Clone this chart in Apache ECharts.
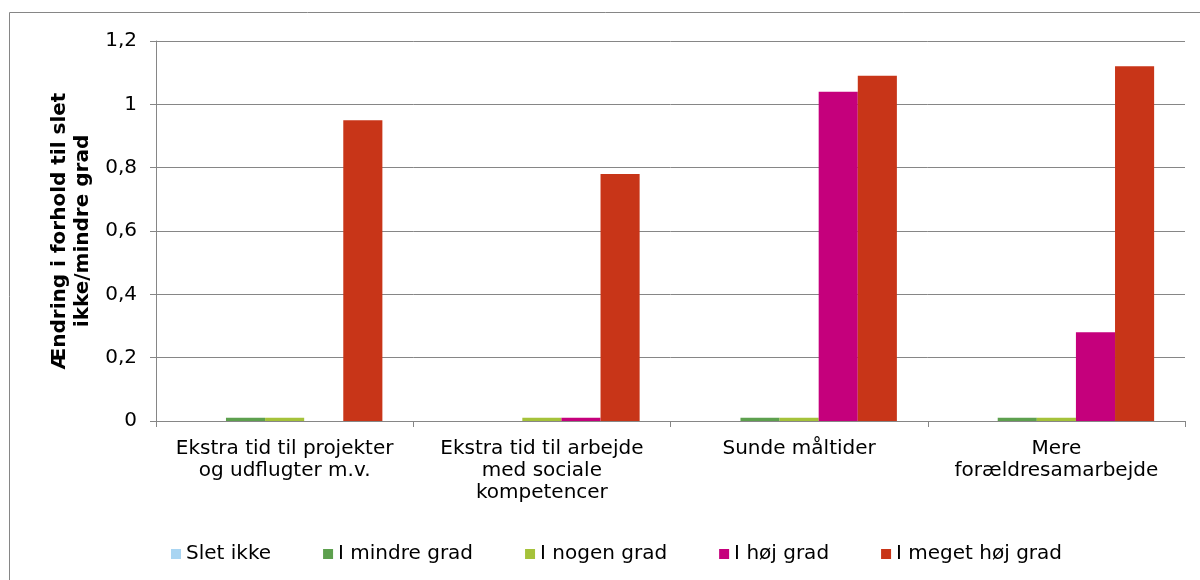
<!DOCTYPE html>
<html>
<head>
<meta charset="utf-8">
<script src="https://cdn.jsdelivr.net/npm/echarts@6/dist/echarts.min.js"></script>
<style>
  html, body { margin: 0; padding: 0; background: #fff; }
  #chart { width: 1200px; height: 580px; }
</style>
</head>
<body>
<div id="chart"></div>
<script>
// kategorier
var categories = [
  'Ekstra tid til projekter\nog udflugter m.v.',
  'Ekstra tid til arbejde\nmed sociale\nkompetencer',
  'Sunde måltider',
  'Mere\nforældresamarbejde'
]
var seriesNames = ['Slet ikke', 'I mindre grad', 'I nogen grad', 'I høj grad', 'I meget høj grad']
var sletIkke = [0, 0, 0, 0]
var iMindreGrad = [0.01, 0, 0.01, 0.01]
var iNogenGrad = [0.01, 0.01, 0.01, 0.01]
var iHoejGrad = [0, 0.01, 1.04, 0.28]
var iMegetHoejGrad = [0.95, 0.78, 1.09, 1.12]
var yTicks = [0, 0.2, 0.4, 0.6, 0.8, 1, 1.2]

var colors = ['#A9D5F2', '#5DA04E', '#A5C23A', '#C5007C', '#C83518']
var font = 'DejaVu Sans'
var gray = '#868686'

var chart = echarts.init(document.getElementById('chart'))
var values = [sletIkke, iMindreGrad, iNogenGrad, iHoejGrad, iMegetHoejGrad]

var option = {
  backgroundColor: '#fff',
  color: colors,
  animation: false,
  graphic: [
    {
      type: 'rect',
      shape: { x: 9.5, y: 12.5, width: 1300, height: 700 },
      style: { fill: 'none', stroke: gray, lineWidth: 1 },
      silent: true
    }
  ],
  legend: {
    data: seriesNames,
    left: 166,
    top: 539,
    itemWidth: 10,
    itemHeight: 10,
    itemGap: 52,
    icon: 'rect',
    textStyle: { fontFamily: font, fontSize: 20, color: '#000' }
  },
  grid: {
    left: 156,
    right: 15,
    top: 41,
    bottom: 159,
    containLabel: false
  },
  xAxis: {
    type: 'category',
    data: categories,
    axisLine: { lineStyle: { color: gray, width: 1 } },
    axisTick: { show: true, length: 6, lineStyle: { color: gray } },
    axisLabel: {
      margin: 17,
      fontFamily: font,
      fontSize: 20,
      lineHeight: 22,
      color: '#000',
      interval: 0
    }
  },
  yAxis: {
    type: 'value',
    min: 0,
    max: yTicks[yTicks.length - 1],
    interval: 0.2,
    name: 'Ændring i forhold til slet\nikke/mindre grad',
    nameLocation: 'middle',
    nameGap: 62,
    nameTextStyle: {
      fontFamily: font,
      fontSize: 20,
      fontWeight: 'bold',
      lineHeight: 23,
      color: '#000'
    },
    axisLine: { show: true, lineStyle: { color: gray, width: 1 } },
    axisTick: { show: true, length: 6, lineStyle: { color: gray } },
    splitLine: { lineStyle: { color: gray, width: 1 } },
    axisLabel: {
      margin: 19,
      fontFamily: font,
      fontSize: 20,
      color: '#000',
      formatter: function (v) {
        return String(Math.round(v * 10) / 10).replace('.', ',')
      }
    }
  },
  series: seriesNames.map(function (name, i) {
    return {
      name: name,
      type: 'bar',
      data: values[i],
      barGap: 0,
      barCategoryGap: '24%'
    }
  })
}

chart.setOption(option)
</script>
</body>
</html>
